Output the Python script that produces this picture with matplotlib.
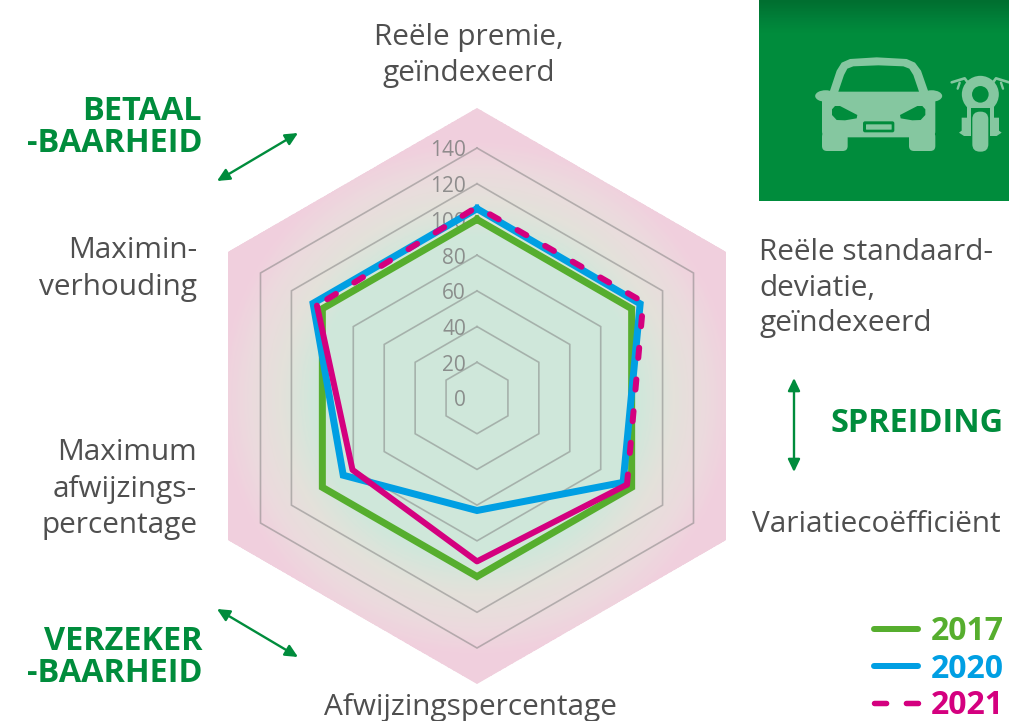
import numpy as np
import matplotlib
matplotlib.use("Agg")
import matplotlib.pyplot as plt
from matplotlib.patches import Polygon, FancyBboxPatch, Ellipse, Circle
from matplotlib.colors import LinearSegmentedColormap
from matplotlib.transforms import Affine2D

plt.rcParams['font.family'] = ['Open Sans', 'DejaVu Sans']

# ---- data ----
categories = ["Reële premie,\ngeïndexeerd", "Reële standaard-\ndeviatie,\ngeïndexeerd",
              "Variatiecoëfficiënt", "Afwijzingspercentage",
              "Maximum\nafwijzings-\npercentage", "Maximin-\nverhouding"]
radial_ticks = [0, 20, 40, 60, 80, 100, 120, 140]
values_2017 = [100, 100, 100, 100, 100, 100]
values_2020 = [106, 105.5, 94.5, 63, 86.5, 106]
values_2021 = [107, 107.5, 97, 91.5, 80.5, 103.5]
years = ["2017", "2020", "2021"]
group_labels = ["BETAAL\n-BAARHEID", "VERZEKER\n-BAARHEID", "SPREIDING"]

C17, C20, C21 = "#56ae2e", "#009fe3", "#d4007f"
DARK = "#008c3c"
TXT = "#4f4f4f"
ICON = "#85c7a0"

W, H = 1009, 721
fig = plt.figure(figsize=(W / 100, H / 100), dpi=100, facecolor="white")

# ---- radar on polar axes ----
cx, cy = 477, 398
PX = 250 / 140
RMAX = 170
R = RMAX * PX
ax = fig.add_axes([(cx - R) / W, (H - cy - R) / H, 2 * R / W, 2 * R / H], projection="polar")
ax.set_theta_zero_location("N")
ax.set_theta_direction(-1)
ax.set_ylim(0, RMAX)
ax.set_axis_off()
theta = np.deg2rad(np.arange(6) * 60.0)


def closed(v):
    return np.r_[theta, theta[0]], np.r_[v, v[0]]


# gradient background clipped to the outer hexagon
hex_r = 161.0
th_g = np.linspace(0, 2 * np.pi, 361)
r_g = np.linspace(0, 170, 171)
T, Rr = np.meshgrid(th_g, r_g)
cmap = LinearSegmentedColormap.from_list("bg", [(0, "#cfe7da"), (0.53, "#cfe7da"), (0.64, "#e3e1da"),
                                                (0.76, "#ecd9dd"), (0.84, "#f0cfdd"), (1, "#f0cfdd")])
clip = Polygon(np.c_[theta, np.full(6, hex_r)], closed=True, facecolor="#f0cfdd", edgecolor="none",
               transform=ax.transData + Affine2D().translate(0, 2), zorder=0)
ax.add_patch(clip)
mesh = ax.pcolormesh(T, Rr, Rr[:-1, :-1] / 170, cmap=cmap, vmin=0, vmax=1, shading="flat", zorder=1, linewidth=0)
mesh.set_clip_path(clip)

# rings
for v in radial_ticks[1:]:
    t, r = closed(np.full(6, v))
    ax.plot(t, r, color="#7d7d7d", alpha=0.5, lw=1.2, zorder=2, solid_joinstyle="miter")
for v in radial_ticks:
    ax.annotate(str(v), (0, v), xytext=(-11, -3), textcoords="offset pixels", ha="right", va="center",
                color="#7f7f7f", alpha=0.85, fontsize=15, zorder=3, annotation_clip=False)

# series
LW = 7 / 1.389
t, r = closed(values_2017)
ax.plot(t, r, color=C17, lw=LW, solid_joinstyle="miter", zorder=4)
t, r = closed(values_2020)
ax.plot(t, r, color=C20, lw=LW, solid_joinstyle="miter", zorder=5)
v21 = np.array(values_2021)
solid_idx = [5, 4, 3, 2]
dash_idx = [2, 1, 0, 5]
LW21 = 6 / 1.389
ax.plot(theta[solid_idx], v21[solid_idx], color=C21, lw=LW21, solid_joinstyle="round",
        solid_capstyle="round", zorder=6)
ax.plot(theta[dash_idx], v21[dash_idx], color=C21, lw=LW21, dashes=(1.7, 3.6), dash_capstyle="round",
        dash_joinstyle="round", zorder=6)

# ---- overlay in pixel coordinates ----
ov = fig.add_axes([0, 0, 1, 1], zorder=10)
ov.set_xlim(0, W)
ov.set_ylim(H, 0)
ov.set_axis_off()
ov.patch.set_alpha(0)

# banner
grad = LinearSegmentedColormap.from_list("ban", [(0, "#006f30"), (0.09, "#008039"), (0.16, DARK), (1, DARK)])
ov.imshow(np.linspace(0, 1, 201)[:, None], extent=(759, 1009, 201, 0), cmap=grad, aspect="auto", zorder=1)
ov.set_xlim(0, W)
ov.set_ylim(H, 0)


def z(x, y):
    return 740 + x / 3, y / 3


def poly(pts, c=ICON, zo=3):
    ov.add_patch(Polygon([z(*p) for p in pts], closed=True, fc=c, ec="none", zorder=zo))


def rbox(x0, y0, x1, y1, rad, c=ICON, zo=3):
    a, b = z(x0, y0)
    d, e = z(x1, y1)
    ov.add_patch(FancyBboxPatch((a + rad, b + rad), d - a - 2 * rad, e - b - 2 * rad,
                                boxstyle=f"round,pad={rad}", fc=c, ec="none", zorder=zo))


# car
rbox(246, 275, 586, 412, 6)
rbox(246, 395, 323, 453, 5)
rbox(507, 395, 586, 453, 5)
poly([(268, 278), (290, 212), (305, 188), (330, 177), (410, 172), (500, 177), (525, 188), (543, 212), (566, 278)])
poly([(295, 275), (312, 225), (322, 206), (340, 199), (415, 196), (490, 199), (508, 206), (520, 225), (537, 275)], DARK, 4)
for mx in (257, 575):
    ex, ey = z(mx, 288)
    ov.add_patch(Ellipse((ex, ey), 21, 11.5, fc=ICON, ec="none", zorder=3))
poly([(276, 328), (285, 318), (300, 318), (352, 345), (350, 355), (315, 361), (290, 360), (276, 345)], DARK, 4)
poly([(556, 328), (547, 318), (532, 318), (480, 345), (482, 355), (517, 361), (542, 360), (556, 345)], DARK, 4)
rbox(369, 364, 463, 397, 2, DARK, 4)
rbox(378, 373, 455, 389, 0.5, ICON, 5)
# motorcycle
poly([(680, 290), (762, 290), (762, 408), (680, 408)])
poly([(692, 325), (750, 325), (750, 408), (692, 408)], DARK, 4)
poly([(665, 353), (692, 353), (692, 408), (672, 408), (657, 398), (665, 392)])
poly([(777, 353), (750, 353), (750, 408), (770, 408), (785, 398), (777, 392)])
rbox(697, 335, 745, 455, 7.5, ICON, 6)
cc = z(721, 283)
ov.add_patch(Circle(cc, 18.5, fc=ICON, ec="none", zorder=3))
ov.add_patch(Circle(cc, 8.3, fc=DARK, ec="none", zorder=4))
poly([(703, 240), (739, 240), (750, 262), (692, 262)])
for s in (-1, 1):
    xs = [721 + s * 86, 721 + s * 47, 721 + s * 30]
    ys = [247, 235, 258]
    ov.plot(*zip(*[z(a, b) for a, b in zip(xs, ys)]), color=ICON, lw=1.9, zorder=3, solid_capstyle="round")
    xs = [721 + s * 62, 721 + s * 68]
    ys = [248, 266]
    ov.plot(*zip(*[z(a, b) for a, b in zip(xs, ys)]), color=ICON, lw=1.7, zorder=3, solid_capstyle="round")

# category labels
FS = 21.4
LS = 36
label_pos = [(469, 37, "center"), (759, 252, "left"), (752, 524, "left"), (470, 708, "center"),
             (197, 453, "right"), (197, 251, "right")]
for name, (x, y, ha) in zip(categories, label_pos):
    for i, line in enumerate(name.split("\n")):
        ov.text(x, y + i * LS, line, ha=ha, va="center", fontsize=FS, color=TXT)

# group labels
g_pos = [(202, 112), (202, 641), (1004, 423)]
for name, (x, y) in zip(group_labels, g_pos):
    for i, line in enumerate(name.split("\n")):
        ov.text(x, y + i * 32, line, ha="right", va="center", fontsize=23.4, fontweight="bold", color=DARK)

# arrows
for a, b in [((217, 181), (298, 133)), ((217, 609), (298, 657)), ((794, 378), (794, 472))]:
    ov.annotate("", xy=b, xytext=a, arrowprops=dict(arrowstyle="<|-|>,head_length=0.75,head_width=0.36",
                                                    color=DARK, lw=1.7, shrinkA=0, shrinkB=0))

# legend
leg_y = [629, 666, 703]
for yr, c, y in zip(years, (C17, C20, C21), leg_y):
    if yr == "2021":
        ov.plot([873.5, 918], [y, y], color=c, lw=5.5 / 1.389, dashes=(2.2, 3.6), dash_capstyle="round")
    else:
        ov.plot([874, 918], [y, y], color=c, lw=6 / 1.389, solid_capstyle="round")
    ov.text(1004, y + 3, yr, ha="right", va="center", fontsize=23, fontweight="bold", color=c)

fig.savefig("out.png", dpi=100, facecolor="white")
